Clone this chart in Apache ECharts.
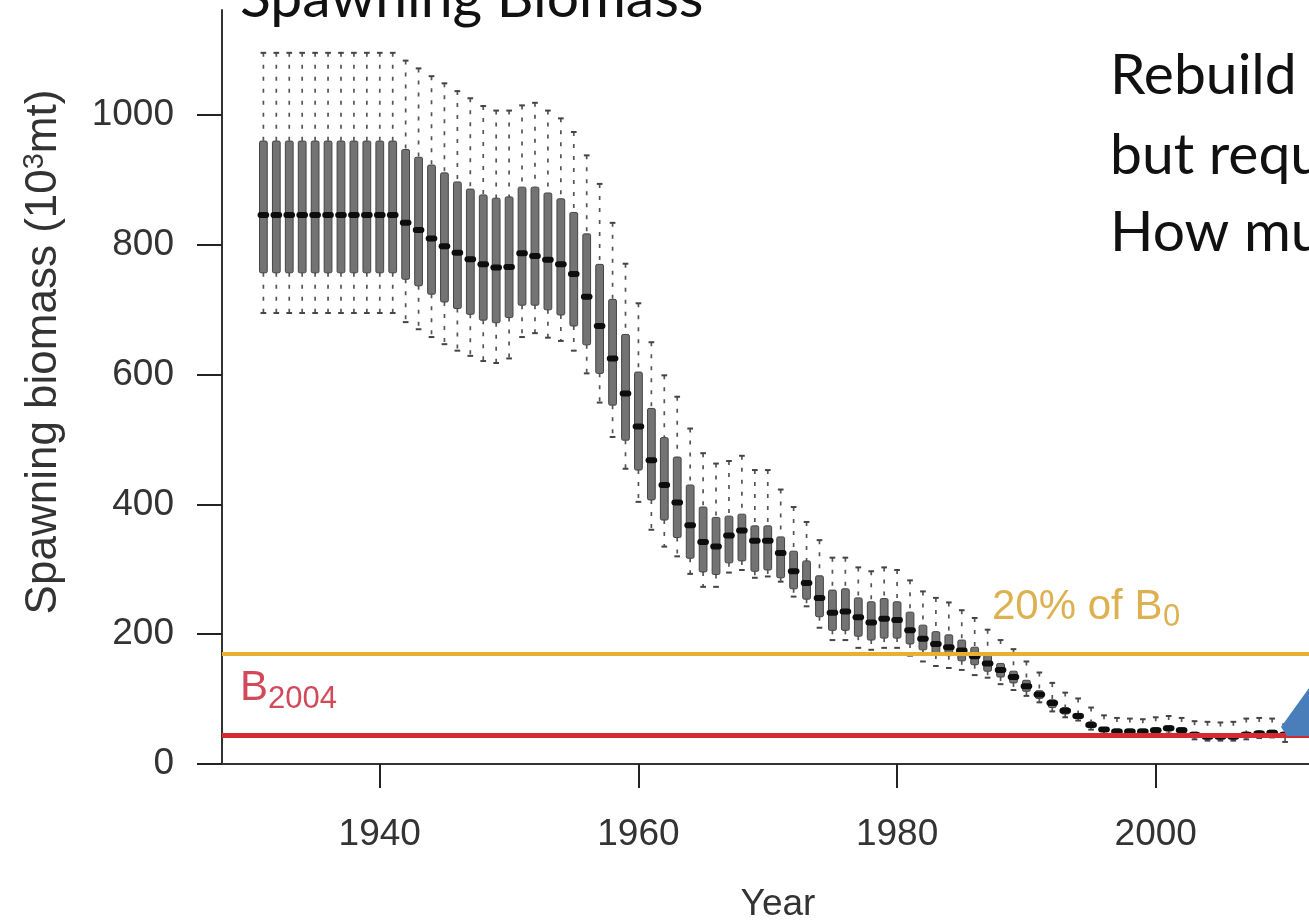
<!DOCTYPE html>
<html><head><meta charset="utf-8">
<script src="https://cdn.jsdelivr.net/npm/echarts@6/dist/echarts.min.js"></script>
<style>html,body{margin:0;padding:0;background:#fff;overflow:hidden}#c{width:1309px;height:923px}</style>
</head><body><div id="c"></div>
<script>
const years = [1931,1932,1933,1934,1935,1936,1937,1938,1939,1940,
  1941,1942,1943,1944,1945,1946,1947,1948,1949,1950,
  1951,1952,1953,1954,1955,1956,1957,1958,1959,1960,
  1961,1962,1963,1964,1965,1966,1967,1968,1969,1970,
  1971,1972,1973,1974,1975,1976,1977,1978,1979,1980,
  1981,1982,1983,1984,1985,1986,1987,1988,1989,1990,
  1991,1992,1993,1994,1995,1996,1997,1998,1999,2000,
  2001,2002,2003,2004,2005,2006,2007,2008,2009,2010];
const whiskerLow = [695,695,695,695,695,695,695,695,695,695,
  695,681,670,658,647,637,629,621,618,625,
  658,664,657,652,637,602,557,504,455,404,
  361,335,320,293,273,273,295,299,287,289,
  281,258,243,210,191,191,179,176,179,179,
  167,158,151,148,145,137,133,123,114,105,
  95,81,72,67,53,46,44,44,44,45,
  47,45,38,36,36,36,38,40,41,34];
const q1 = [757,757,757,757,757,757,757,757,757,757,
  757,747,737,724,712,702,693,684,680,688,
  707,707,700,692,675,646,602,553,499,453,
  407,376,349,317,296,292,310,313,297,299,
  287,270,254,227,206,206,197,191,194,194,
  185,176,168,167,159,153,143,134,125,112,
  101,87,77,70,57,50,47,47,47,48,
  51,48,42,39,39,39,42,44,45,41];
const median = [846,846,846,846,846,846,846,846,846,846,
  846,834,823,810,798,788,778,770,765,766,
  787,783,777,770,755,720,675,625,571,520,
  468,430,403,368,342,335,352,360,344,344,
  325,297,279,256,233,235,226,218,224,222,
  206,193,185,180,175,166,155,145,134,120,
  107,94,82,74,60,53,50,50,50,52,
  55,52,45,42,42,42,45,47,48,45];
const q3 = [960,960,960,960,960,960,960,960,960,960,
  960,947,935,923,911,897,886,877,872,874,
  889,889,880,871,850,817,770,716,662,604,
  548,503,473,430,396,380,382,385,367,367,
  350,328,313,290,268,270,256,250,255,250,
  234,214,204,199,191,180,168,155,143,129,
  113,99,87,78,65,56,54,54,54,56,
  59,56,49,46,45,46,49,51,52,49];
const whiskerHigh = [1096,1096,1096,1096,1096,1096,1096,1096,1096,1096,
  1096,1084,1072,1060,1049,1037,1026,1014,1007,1007,
  1015,1019,1007,995,974,938,894,834,771,710,
  650,599,566,517,479,463,467,475,453,453,
  423,396,373,345,318,318,303,297,303,299,
  283,266,256,249,237,225,207,191,177,158,
  141,125,110,101,87,75,71,70,69,72,
  74,71,66,65,64,65,70,71,70,61];
const xTicks = [1940, 1960, 1980, 2000];
const yTicks = [0, 200, 400, 600, 800, 1000];
const b0Level = 170;     // 20% of B0
const b2004Level = 45;   // B2004

const boxData = years.map((y, i) => [y, whiskerLow[i], q1[i], median[i], q3[i], whiskerHigh[i]]);

function renderBox(params, api) {
  const x = api.value(0);
  const pLo = api.coord([x, api.value(1)]);
  const pQ1 = api.coord([x, api.value(2)]);
  const pMed = api.coord([x, api.value(3)]);
  const pQ3 = api.coord([x, api.value(4)]);
  const pHi = api.coord([x, api.value(5)]);
  const unit = api.size([1, 0])[0];
  const bw = unit * 0.6;
  const cx = pMed[0];
  const ws = { stroke: '#555', lineWidth: 1.7, lineDash: [4, 8] };
  const ss = { stroke: '#444', lineWidth: 2 };
  return {
    type: 'group',
    children: [
      { type: 'line', shape: { x1: cx, y1: pHi[1], x2: cx, y2: pQ3[1] }, style: ws },
      { type: 'line', shape: { x1: cx, y1: pQ1[1], x2: cx, y2: pLo[1] }, style: ws },
      { type: 'line', shape: { x1: cx - unit * 0.22, y1: pHi[1], x2: cx + unit * 0.22, y2: pHi[1] }, style: ss },
      { type: 'line', shape: { x1: cx - unit * 0.22, y1: pLo[1], x2: cx + unit * 0.22, y2: pLo[1] }, style: ss },
      { type: 'rect', shape: { x: cx - bw / 2, y: pQ3[1], width: bw, height: Math.max(1, pQ1[1] - pQ3[1]), r: 1.5 },
        style: { fill: '#737373', stroke: '#444', lineWidth: 1 } },
      { type: 'rect', shape: { x: cx - unit * 0.45, y: pMed[1] - 3, width: unit * 0.9, height: 6, r: 3 },
        style: { fill: '#0d0d0d' } }
    ]
  };
}

const chart = echarts.init(document.getElementById('c'), null, { renderer: 'canvas' });
const axisFont = { fontFamily: 'Liberation Sans, Arial, sans-serif', fontSize: 37, color: '#333' };
chart.setOption({
  backgroundColor: '#fff',
  animation: false,
  grid: { left: 222, right: 0, top: 10, bottom: 159, containLabel: false, outerBoundsMode: 'none' },
  xAxis: {
    type: 'value', min: 1927.8, max: 2011.85,
    axisLine: { show: true, lineStyle: { color: '#333', width: 2 } },
    axisTick: { show: true, length: 24, customValues: xTicks, lineStyle: { color: '#222', width: 2 } },
    axisLabel: Object.assign({ margin: 52, customValues: xTicks, formatter: v => String(v) }, axisFont),
    splitLine: { show: false }
  },
  yAxis: {
    type: 'value', min: 0, max: 1162,
    axisLine: { show: true, lineStyle: { color: '#333', width: 2 } },
    axisTick: { show: true, length: 25, customValues: yTicks, lineStyle: { color: '#222', width: 2 } },
    axisLabel: Object.assign({ margin: 48, customValues: yTicks, formatter: v => String(v) }, axisFont),
    splitLine: { show: false }
  },
  series: [
    {
      type: 'line', data: [], z: 1, silent: true,
      markLine: {
        silent: true, symbol: 'none', label: { show: false },
        data: [
          { yAxis: b0Level, lineStyle: { color: '#E8B030', width: 4, type: 'solid' } },
          { yAxis: b2004Level, lineStyle: { color: '#D42A30', width: 5, type: 'solid' } }
        ]
      }
    },
    {
      type: 'custom', z: 3, renderItem: renderBox,
      encode: { x: 0, y: [1, 2, 3, 4, 5] },
      data: boxData
    }
  ],
  graphic: [
    { type: 'text', left: 240, top: -30, style: { text: 'Spawning Biomass', font: '57px Lato', fill: '#111' } },
    { type: 'text', x: 1110, y: 76, style: { text: 'Rebuild', font: '57px Lato', fill: '#111', verticalAlign: 'middle' } },
    { type: 'text', x: 1110, y: 156, style: { text: 'but requ', font: '57px Lato', fill: '#111', verticalAlign: 'middle' } },
    { type: 'text', x: 1110, y: 233, style: { text: 'How mu', font: '57px Lato', fill: '#111', verticalAlign: 'middle' } },
    { type: 'text', x: 778, y: 905, style: { text: 'Year', font: '37px "Liberation Sans"', fill: '#333', align: 'center', verticalAlign: 'middle' } },
    { type: 'text', x: 44, y: 352, rotation: Math.PI / 2,
      style: { text: '{n|Spawning biomass (10}{s|3}{n|mt)}', align: 'center', verticalAlign: 'middle',
        rich: { n: { font: '44px "Liberation Sans"', fill: '#333' }, s: { font: '29px "Liberation Sans"', fill: '#333', padding: [0, 0, 18, 0] } } } },
    { type: 'text', x: 240, y: 688, style: { text: 'B', font: '42px "Liberation Sans"', fill: '#D2495A', verticalAlign: 'middle' } },
    { type: 'text', x: 268, y: 699, style: { text: '2004', font: '31px "Liberation Sans"', fill: '#D2495A', verticalAlign: 'middle' } },
    { type: 'text', x: 992, y: 607, style: { text: '20% of B', font: '42px "Liberation Sans"', fill: '#DDB050', verticalAlign: 'middle' } },
    { type: 'text', x: 1163, y: 617, style: { text: '0', font: '31px "Liberation Sans"', fill: '#DDB050', verticalAlign: 'middle' } },
    { type: 'polygon', z: 100, shape: { points: [[1281, 727], [1309, 688], [1309, 736], [1287, 736]] }, style: { fill: '#4A7EBB' } }
  ]
});
</script></body></html>
